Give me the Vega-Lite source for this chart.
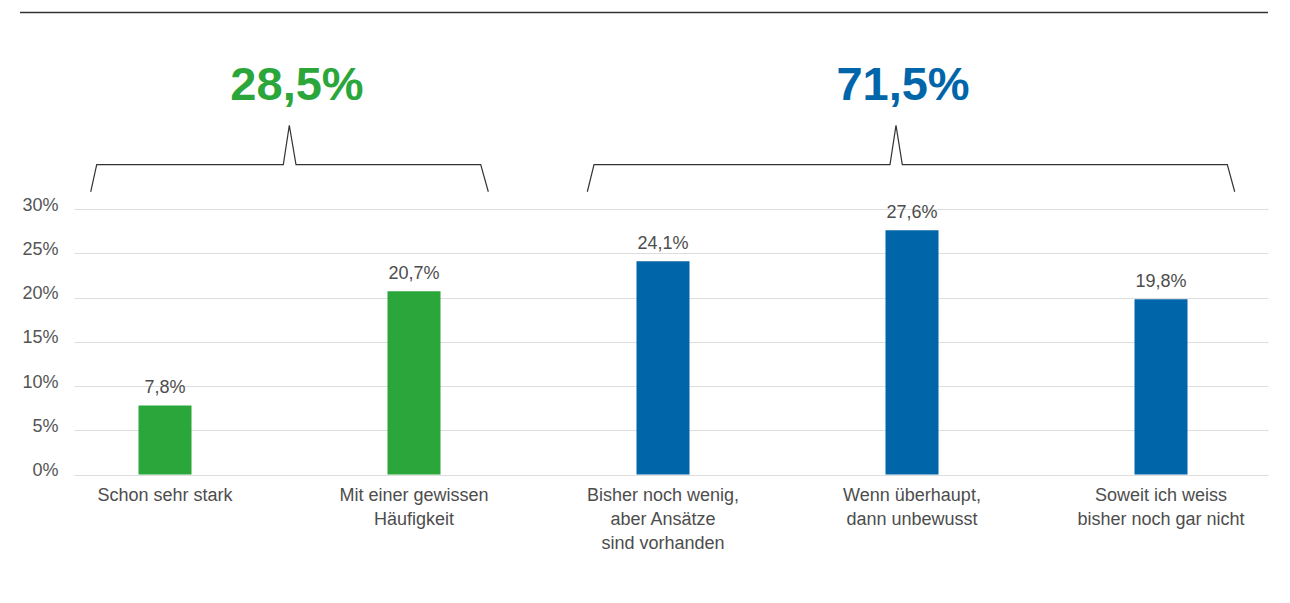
{
  "$schema": "https://vega.github.io/schema/vega-lite/v6.json",
  "width": 1194,
  "height": 603,
  "autosize": {"type": "none"},
  "padding": {"left": 74, "top": 0, "right": 22, "bottom": 0},
  "background": "#ffffff",
  "config": {"view": {"stroke": null}, "font": "Liberation Sans"},
  "datasets": {
    "bars": [
      {"idx": 0, "cat": "Schon sehr stark", "value": 7.8, "label": "7,8%", "group": "ja"},
      {"idx": 1, "cat": "Mit einer gewissen\nHäufigkeit", "value": 20.7, "label": "20,7%", "group": "ja"},
      {"idx": 2, "cat": "Bisher noch wenig,\naber Ansätze\nsind vorhanden", "value": 24.1, "label": "24,1%", "group": "nein"},
      {"idx": 3, "cat": "Wenn überhaupt,\ndann unbewusst", "value": 27.6, "label": "27,6%", "group": "nein"},
      {"idx": 4, "cat": "Soweit ich weiss\nbisher noch gar nicht", "value": 19.8, "label": "19,8%", "group": "nein"}
    ],
    "brackets": [
      {"b": "ja", "o": 1, "x": -0.2984, "y": 31.95},
      {"b": "ja", "o": 2, "x": -0.2743, "y": 35.01},
      {"b": "ja", "o": 3, "x": 0.4751, "y": 35.01},
      {"b": "ja", "o": 4, "x": 0.4992, "y": 39.46},
      {"b": "ja", "o": 5, "x": 0.5261, "y": 35.01},
      {"b": "ja", "o": 6, "x": 1.2679, "y": 35.01},
      {"b": "ja", "o": 7, "x": 1.2984, "y": 31.95},
      {"b": "nein", "o": 1, "x": 1.696, "y": 31.95},
      {"b": "nein", "o": 2, "x": 1.7229, "y": 35.01},
      {"b": "nein", "o": 3, "x": 2.9116, "y": 35.01},
      {"b": "nein", "o": 4, "x": 2.9357, "y": 39.46},
      {"b": "nein", "o": 5, "x": 2.961, "y": 35.01},
      {"b": "nein", "o": 6, "x": 4.2663, "y": 35.01},
      {"b": "nein", "o": 7, "x": 4.296, "y": 31.95}
    ],
    "totals": [
      {"group": "ja", "x": 0.5301, "y": 42.3, "text": "28,5%"},
      {"group": "nein", "x": 2.9639, "y": 42.3, "text": "71,5%"}
    ],
    "topline": [
      {"x": -0.5823, "x2": 4.4297, "y": 52.2}
    ]
  },
  "layer": [
    {
      "data": {"name": "topline"},
      "mark": {"type": "rule", "color": "#333333", "strokeWidth": 1.5},
      "encoding": {
        "x": {"field": "x", "type": "quantitative", "scale": {"domain": [-0.3655, 4.4297], "nice": false, "zero": false, "padding": 0}, "axis": null},
        "x2": {"field": "x2"},
        "y": {"field": "y", "type": "quantitative", "scale": {"domain": [-14.52, 53.62], "nice": false, "zero": false, "padding": 0},
          "axis": {"values": [0, 5, 10, 15, 20, 25, 30], "labelExpr": "datum.value + '%'", "title": null, "domain": false, "ticks": false,
            "grid": true, "gridColor": "#dddddd", "gridWidth": 1.2, "labelFontSize": 18, "labelColor": "#555555", "labelPadding": 16,
            "labelFont": "Liberation Sans", "labelBaseline": "alphabetic", "labelOffset": 1}}
      }
    },
    {
      "data": {"name": "bars"},
      "mark": {"type": "bar", "size": 53},
      "encoding": {
        "x": {"field": "idx", "type": "quantitative"},
        "y": {"field": "value", "type": "quantitative"},
        "color": {"field": "group", "type": "nominal", "scale": {"domain": ["ja", "nein"], "range": ["#2aa63b", "#0065a9"]}, "legend": null}
      }
    },
    {
      "data": {"name": "bars"},
      "mark": {"type": "text", "baseline": "alphabetic", "align": "center", "dy": -12, "fontSize": 18, "color": "#4d4d4d"},
      "encoding": {
        "x": {"field": "idx", "type": "quantitative"},
        "y": {"field": "value", "type": "quantitative"},
        "text": {"field": "label"}
      }
    },
    {
      "data": {"name": "bars"},
      "mark": {"type": "text", "baseline": "alphabetic", "align": "center", "fontSize": 18, "color": "#4d4d4d", "lineBreak": "\n", "lineHeight": 24},
      "encoding": {
        "x": {"field": "idx", "type": "quantitative"},
        "y": {"datum": -2.99},
        "text": {"field": "cat"}
      }
    },
    {
      "data": {"name": "brackets"},
      "mark": {"type": "line", "color": "#333333", "strokeWidth": 1.2},
      "encoding": {
        "x": {"field": "x", "type": "quantitative"},
        "y": {"field": "y", "type": "quantitative"},
        "detail": {"field": "b"},
        "order": {"field": "o"}
      }
    },
    {
      "data": {"name": "totals"},
      "mark": {"type": "text", "baseline": "alphabetic", "align": "center", "fontSize": 47, "fontWeight": "bold"},
      "encoding": {
        "x": {"field": "x", "type": "quantitative"},
        "y": {"field": "y", "type": "quantitative"},
        "text": {"field": "text"},
        "color": {"field": "group", "type": "nominal", "legend": null}
      }
    }
  ]
}
